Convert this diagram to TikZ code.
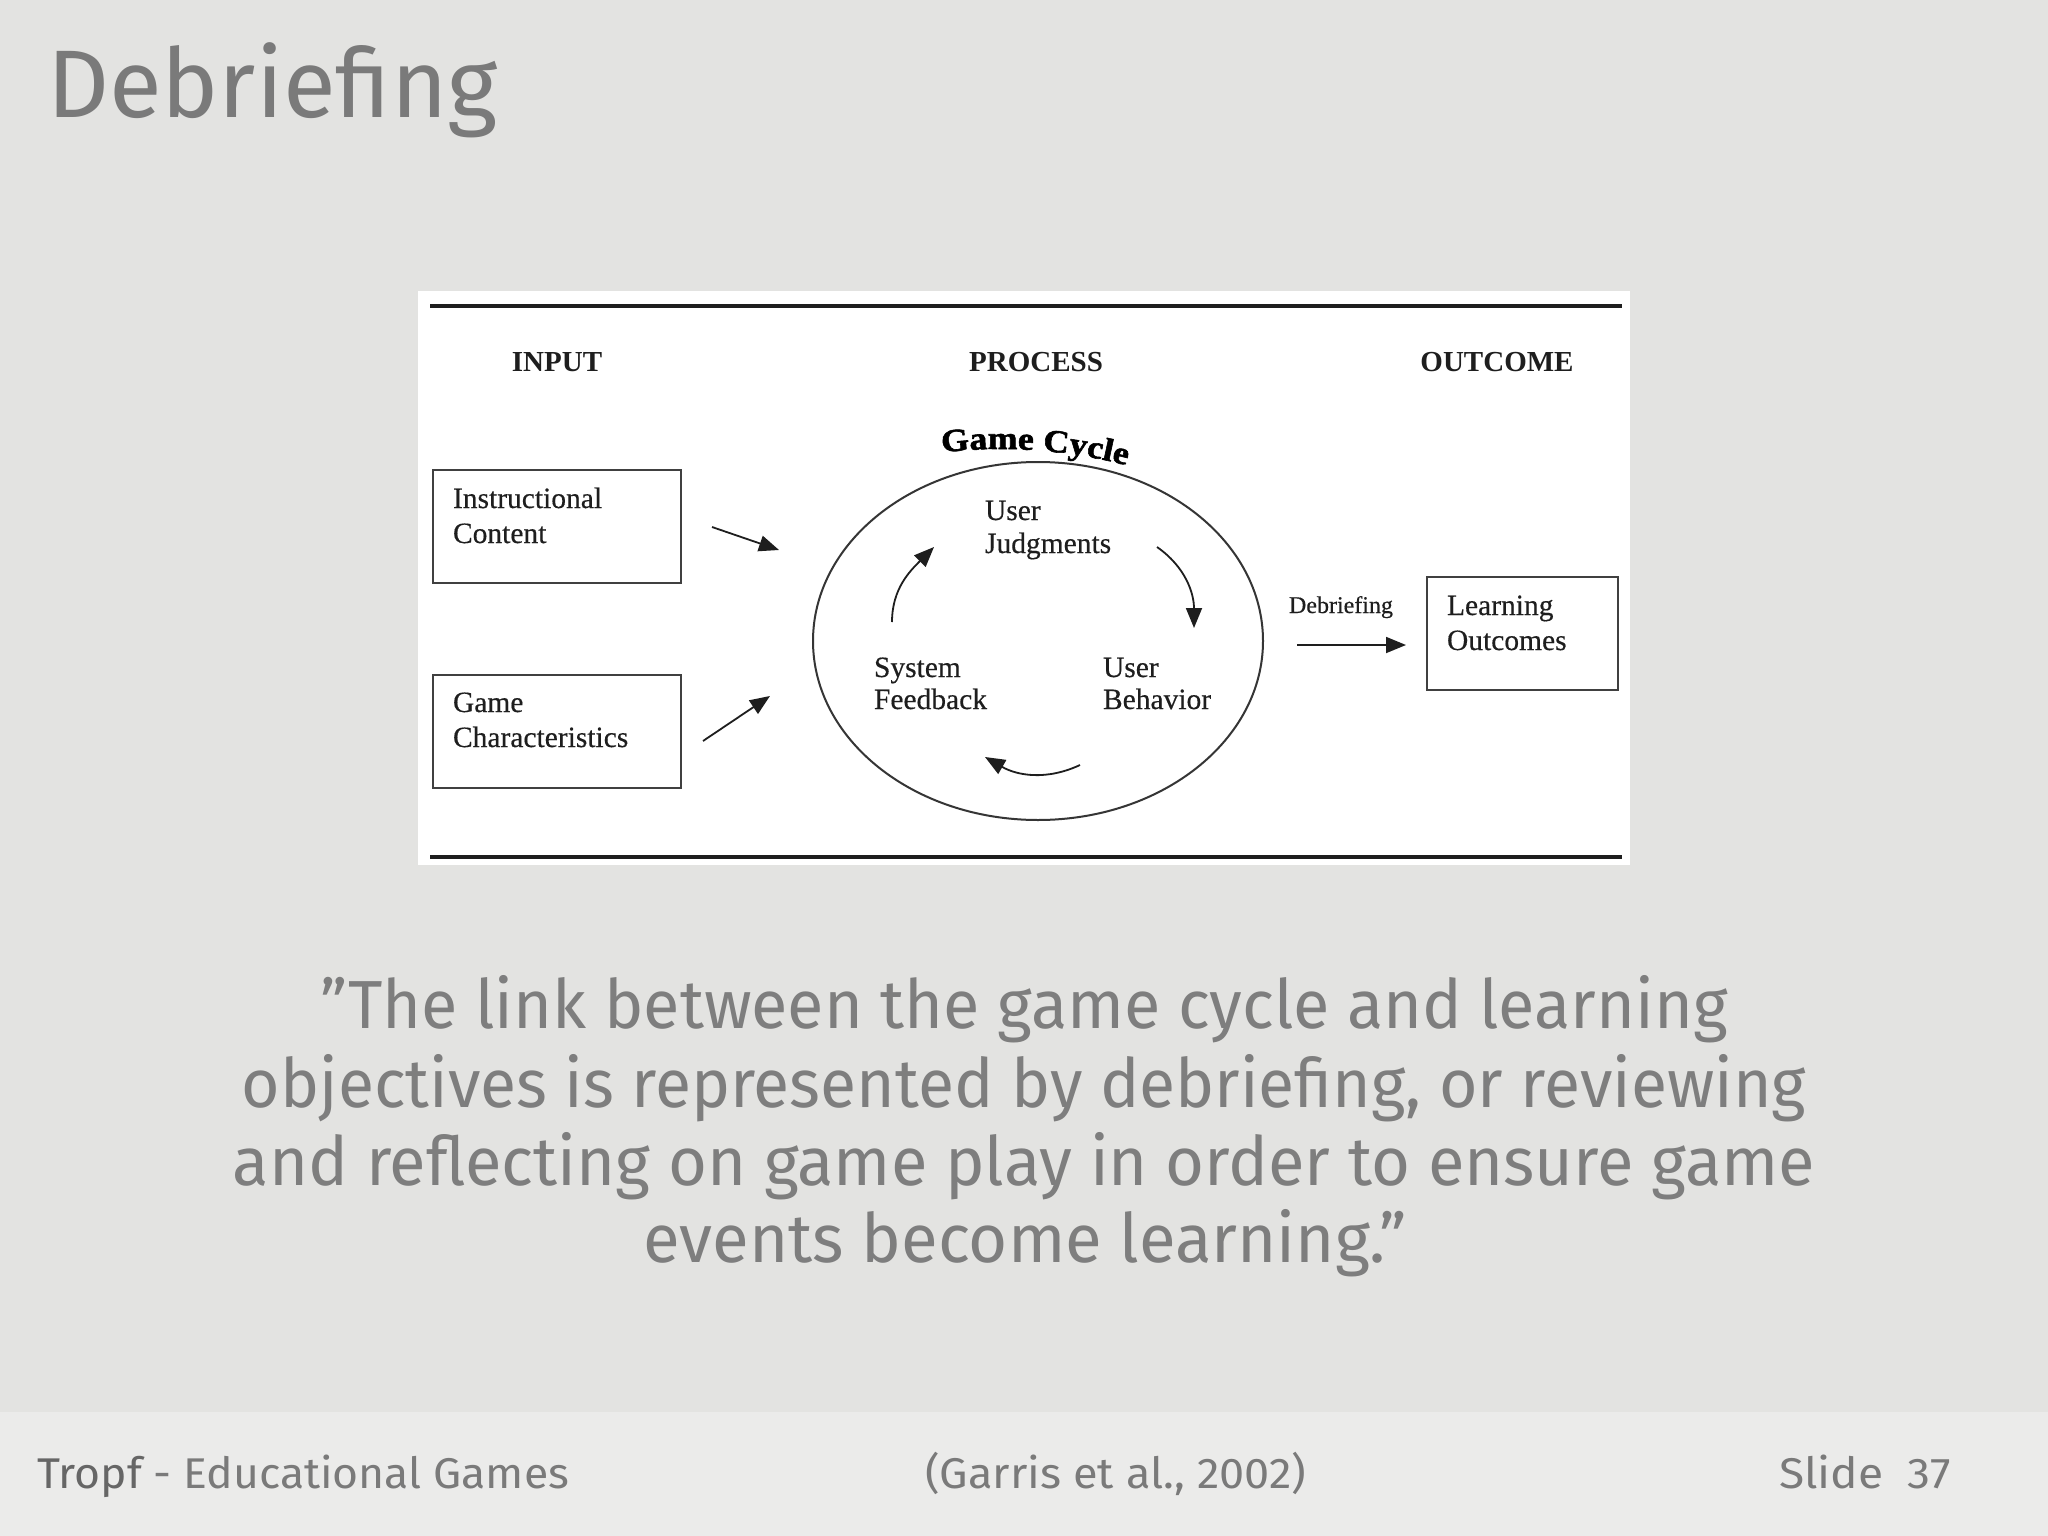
\documentclass[tikz,border=0pt]{standalone}
\usepackage{fontspec}
\setmainfont{Liberation Serif}[UprightFeatures={FakeBold=0.4}]
\newfontfamily\gcfont{Liberation Serif}[BoldFeatures={FakeBold=1.8, FakeStretch=1.12}]
\newfontfamily\slidefont{Fira Sans}
\usetikzlibrary{arrows.meta,shapes.geometric,decorations.text}
\definecolor{bgmain}{HTML}{E3E3E1}
\definecolor{bgfoot}{HTML}{EBEBEA}
\definecolor{slidegray}{HTML}{7A7A7A}
\definecolor{quotegray}{HTML}{7E7E7E}
\definecolor{footdark}{HTML}{666666}
\definecolor{ink}{HTML}{1E1E1E}
\newsavebox\fitbox
\newcommand\fitw[2]{\sbox\fitbox{#2}\resizebox{#1}{\ht\fitbox}{\usebox\fitbox}}
\begin{document}
\begin{tikzpicture}[x=1pt,y=1pt,
  every node/.style={inner sep=0pt, outer sep=0pt},
  hdr/.style={font=\bfseries\fontsize{29}{32}\selectfont, text=ink, anchor=base},
  lbl/.style={font=\fontsize{29.5}{33}\selectfont, text=ink, anchor=base west},
  boxnode/.style={draw=ink!85, line width=2pt, minimum width=248pt, minimum height=113pt, anchor=north west},
  arr/.style={draw=ink, line width=1.8pt, -{Triangle[length=20pt,width=16pt]}},
  slide/.style={text=slidegray, anchor=base},
  rulebar/.style={draw=ink, line width=3.5pt},
]
\useasboundingbox (0,0) rectangle (2048,-1536);
% background
\fill[bgmain] (0,0) rectangle (2048,-1412);
\fill[bgfoot] (0,-1412) rectangle (2048,-1536);

% title
\node[slide, anchor=base west] (title) at (47,-118)
  {\fitw{451pt}{\slidefont\fontsize{96}{100}\selectfont Debriefing}};

% diagram panel
\fill[white] (418,-291) rectangle (1630,-865);
\coordinate (r1a) at (430,-306); \coordinate (r1b) at (1622,-306);
\coordinate (r2a) at (430,-857); \coordinate (r2b) at (1622,-857);
\draw[rulebar] (r1a) -- (r1b);
\draw[rulebar] (r2a) -- (r2b);

\node[hdr] (input) at (557,-371) {INPUT};
\node[hdr] (process) at (1036,-371) {PROCESS};
\node[hdr] (outcome) at (1497,-371) {OUTCOME};

% input boxes
\node[boxnode] (ic) at (433,-470) {};
\node[lbl] (ic1) at (453,-508) {Instructional};
\node[lbl] (ic2) at (453,-543) {Content};
\node[boxnode] (gc) at (433,-675) {};
\node[lbl] (gc1) at (453,-712) {Game};
\node[lbl] (gc2) at (453,-747) {Characteristics};

% outcome box
\node[boxnode, minimum width=191pt] (lo) at (1427,-577) {};
\node[lbl] (lo1) at (1447,-615) {Learning};
\node[lbl] (lo2) at (1447,-650) {Outcomes};

% game cycle
\node[draw=ink!90, line width=2pt, ellipse, minimum width=450pt, minimum height=358pt] (cyc) at (1038,-641) {};
\path[decorate, decoration={text along path, text align=center,
   text={|\gcfont\bfseries\fontsize{32}{32}\selectfont|Game Cycle}}]
   (1000,-949) ++(106:500) arc[start angle=106, end angle=66, radius=500];

\node[lbl] (uj1) at (985,-520) {User};
\node[lbl] (uj2) at (985,-553) {Judgments};
\node[lbl] (sf1) at (874,-677) {System};
\node[lbl] (sf2) at (874,-709) {Feedback};
\node[lbl] (ub1) at (1103,-677) {User};
\node[lbl] (ub2) at (1103,-709) {Behavior};

% inner cycle arrows
\coordinate (a1s) at (892,-622); \coordinate (a1e) at (934,-547);
\coordinate (a2s) at (1157,-547); \coordinate (a2e) at (1194,-628);
\coordinate (a3s) at (1080,-765); \coordinate (a3e) at (985,-757);
\draw[arr] (a1s) to[out=90,in=225] (a1e);
\draw[arr] (a2s) to[out=-35,in=90] (a2e);
\draw[arr] (a3s) to[out=205,in=-30] (a3e);

% input arrows
\coordinate (b1s) at (712,-527); \coordinate (b1e) at (779,-550);
\coordinate (b2s) at (703,-741); \coordinate (b2e) at (770,-696);
\draw[arr] (b1s) -- (b1e);
\draw[arr] (b2s) -- (b2e);

% debriefing arrow
\node[anchor=base west, font=\fontsize{24}{26}\selectfont, text=ink] (deb) at (1289,-613) {Debriefing};
\coordinate (d1) at (1297,-645); \coordinate (d2) at (1406,-645);
\draw[arr] (d1) -- (d2);

% quote
\begin{scope}[every node/.style={slide, text=quotegray, inner sep=0pt, font=\slidefont\fontsize{68}{72}\selectfont}]
\node (q1) at (1024,-1028) {\fitw{1407pt}{”The link between the game cycle and learning}};
\node (q2) at (1024,-1107) {\fitw{1564pt}{objectives is represented by debriefing, or reviewing}};
\node (q3) at (1024,-1185) {\fitw{1582pt}{and reflecting on game play in order to ensure game}};
\node (q4) at (1025,-1262) {\fitw{763pt}{events become learning.”}};
\end{scope}

% footer
\begin{scope}[every node/.style={slide, inner sep=0pt, anchor=base west, font=\slidefont\fontsize{43}{46}\selectfont}]
\node (f1) at (37,-1488) {\fitw{532pt}{\textcolor{footdark}{Tropf} - Educational Games}};
\node (f2) at (925,-1488) {\fitw{381pt}{(Garris et al., 2002)}};
\node (f3) at (1779,-1488) {\fitw{172pt}{Slide\ \ 37}};
\end{scope}
\end{tikzpicture}
\end{document}
